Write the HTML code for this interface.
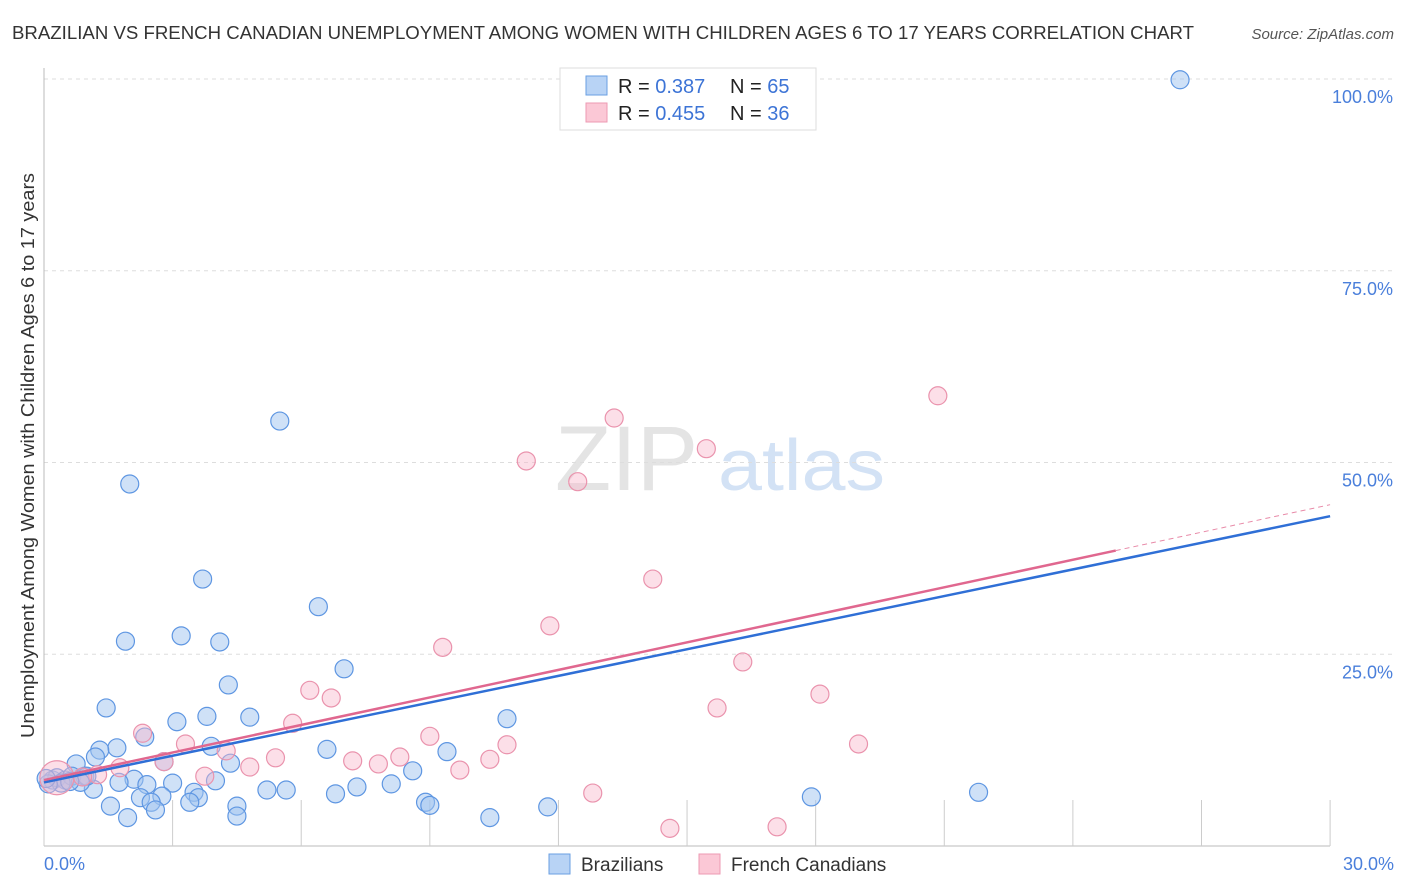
<!DOCTYPE html>
<html><head><meta charset="utf-8"><style>
body{margin:0;background:#fff;font-family:"Liberation Sans",sans-serif;}
#wrap{position:relative;width:1406px;height:892px;overflow:hidden;}
svg text{font-family:"Liberation Sans",sans-serif;}
</style></head><body>
<div id="wrap">
<svg id="chart" width="1406" height="892">
<text x="12" y="39" font-size="18" fill="#333" textLength="1182" lengthAdjust="spacingAndGlyphs">BRAZILIAN VS FRENCH CANADIAN UNEMPLOYMENT AMONG WOMEN WITH CHILDREN AGES 6 TO 17 YEARS CORRELATION CHART</text>
<text x="1394" y="39" font-size="15" fill="#555" font-style="italic" text-anchor="end">Source: ZipAtlas.com</text>
<text transform="translate(34,738) rotate(-90)" font-size="18" fill="#333" textLength="565" lengthAdjust="spacingAndGlyphs">Unemployment Among Women with Children Ages 6 to 17 years</text>
<g><text x="555" y="490" font-size="92" fill="#e4e4e4" font-family="Liberation Serif">ZIP</text><text x="718" y="490" font-size="72" fill="#d3e2f5" textLength="167" lengthAdjust="spacingAndGlyphs">atlas</text></g>
<g id="grid"></g><g id="axes"></g><g id="pts"></g><g id="trend"></g>
<g>
<rect x="560" y="68" width="256" height="62" fill="#fff" stroke="#ddd"/>
<rect x="586" y="76" width="21" height="19" fill="#b8d3f5" stroke="#6a9fe2"/>
<rect x="586" y="103" width="21" height="19" fill="#fbc8d6" stroke="#ec9ab3"/>
<text x="618" y="93" font-size="20" fill="#222">R = <tspan fill="#3d74d6">0.387</tspan></text>
<text x="730" y="93" font-size="20" fill="#222">N = <tspan fill="#3d74d6">65</tspan></text>
<text x="618" y="120" font-size="20" fill="#222">R = <tspan fill="#3d74d6">0.455</tspan></text>
<text x="730" y="120" font-size="20" fill="#222">N = <tspan fill="#3d74d6">36</tspan></text>
</g>
<g>
<rect x="549" y="854" width="21" height="20" fill="#b8d3f5" stroke="#6a9fe2"/>
<text x="581" y="871" font-size="19" fill="#333">Brazilians</text>
<rect x="699" y="854" width="21" height="20" fill="#fbc8d6" stroke="#ec9ab3"/>
<text x="731" y="871" font-size="19" fill="#333">French Canadians</text>
</g>
</svg>
</div>
<script>
const blueX=[26.5,5.5,2.0,3.7,6.4,1.9,3.2,4.1,7.0,4.3,1.45,3.1,3.8,4.8,10.8,2.35,3.9,6.6,9.4,1.7,1.3,1.2,2.8,4.35,0.75,8.6,2.1,1.75,3.0,2.4,4.0,8.1,7.3,1.15,3.5,5.2,5.65,6.8,2.75,2.25,3.6,3.4,2.5,8.9,9.0,4.5,1.55,11.75,2.6,4.5,1.95,10.4,17.9,21.8,0.2,0.3,0.5,0.65,0.95,1.0,0.4,0.85,0.1,0.05,0.6];
const blueY=[99.9,55.4,47.2,34.8,31.2,26.7,27.4,26.6,23.1,21.0,18.0,16.2,16.9,16.8,16.6,14.2,13.0,12.6,12.3,12.8,12.5,11.6,11.0,10.8,10.7,9.8,8.7,8.3,8.2,8.0,8.5,8.1,7.7,7.4,7.0,7.3,7.3,6.8,6.5,6.3,6.3,5.7,5.7,5.7,5.3,5.2,5.2,5.1,4.7,3.9,3.7,3.7,6.4,7.0,8.6,8.9,8.6,9.1,9.1,9.1,8.2,8.3,8.1,8.8,8.4];
const pinkX=[20.85,13.3,15.45,11.25,12.45,14.2,11.8,9.3,16.3,6.2,6.7,18.1,15.7,5.8,2.3,9.0,3.3,10.8,19.0,4.25,5.4,8.3,7.2,7.8,10.4,2.8,1.77,4.8,9.7,3.75,1.25,12.8,14.6,17.1,0.3,0.9];
const pinkY=[58.7,55.8,51.8,50.2,47.5,34.8,28.7,25.9,24.0,20.3,19.3,19.8,18.0,16.0,14.7,14.3,13.3,13.2,13.3,12.4,11.5,11.6,11.1,10.7,11.3,11.0,10.2,10.3,9.9,9.1,9.3,6.9,2.3,2.5,8.9,9.0];
const blueTrend=[8.3,43.0];
const pinkTrend=[8.6,44.5];
const pinkSolidEnd=25;
const yTicks=[25,50,75,100];
const yTickLabels=["25.0%","50.0%","75.0%","100.0%"];
const xTicks=[0,3,6,9,12,15,18,21,24,27,30];
const NS="http://www.w3.org/2000/svg";
const X=v=>44+v*42.87, Y=v=>846-v*7.67;
function mk(tag,attrs,parent){const e=document.createElementNS(NS,tag);for(const k in attrs)e.setAttribute(k,attrs[k]);document.getElementById(parent).appendChild(e);return e;}
yTicks.forEach((t,i)=>{
 const l=mk('line',{x1:44,x2:1394,y1:Y(t),y2:Y(t),stroke:'#ddd','stroke-dasharray':'4,4'},'grid');
 
 
 const tx=mk('text',{x:1393,y:Y(t)+24,'font-size':18,fill:'#4a7fdb','text-anchor':'end'},'grid');tx.textContent=yTickLabels[i];
 
 
});
let a=mk('line',{x1:44,x2:44,y1:68,y2:846,stroke:'#bbb'},'axes');


a=mk('line',{x1:44,x2:1330,y1:846,y2:846,stroke:'#bbb'},'axes');


xTicks.forEach(t=>{const l=mk('line',{x1:X(t),x2:X(t),y1:800,y2:846,stroke:'#ccc'},'axes');
 
 });
let t0=mk('text',{x:44,y:870,'font-size':18,fill:'#4a7fdb'},'axes');t0.textContent='0.0%';


let t1=mk('text',{x:1394,y:870,'font-size':18,fill:'#4a7fdb','text-anchor':'end'},'axes');t1.textContent='30.0%';


blueX.forEach((v,i)=>{const c=mk('circle',{cx:X(v),cy:Y(blueY[i]),r:9,fill:'rgba(160,195,240,0.5)',stroke:'#5e96e2','stroke-width':1.2},'pts');
 
 });
pinkX.forEach((v,i)=>{const c=mk('circle',{cx:X(v),cy:Y(pinkY[i]),r:i===34?17:9,fill:'rgba(248,185,203,0.45)',stroke:'#ea93ad','stroke-width':1.2},'pts');
 
 });
const bl=v=>blueTrend[0]+(blueTrend[1]-blueTrend[0])*v/30, pl=v=>pinkTrend[0]+(pinkTrend[1]-pinkTrend[0])*v/30;
let l=mk('line',{x1:X(0),y1:Y(bl(0)),x2:X(30),y2:Y(bl(30)),stroke:'#2f6fd6','stroke-width':2.5},'trend');


l=mk('line',{x1:X(0),y1:Y(pl(0)),x2:X(pinkSolidEnd),y2:Y(pl(pinkSolidEnd)),stroke:'#e0678f','stroke-width':2.5},'trend');


l=mk('line',{x1:X(pinkSolidEnd),y1:Y(pl(pinkSolidEnd)),x2:X(30),y2:Y(pl(30)),stroke:'#e88aa8','stroke-width':1,'stroke-dasharray':'5,4'},'trend');


</script>
</body></html>
